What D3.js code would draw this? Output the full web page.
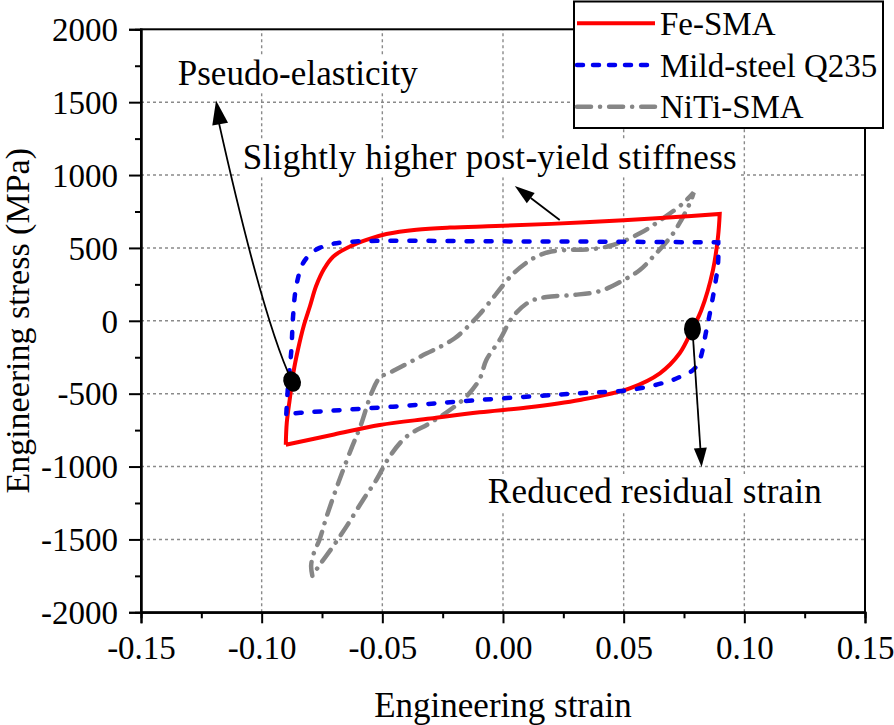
<!DOCTYPE html>
<html>
<head>
<meta charset="utf-8">
<script src="https://cdn.jsdelivr.net/npm/d3@7/dist/d3.min.js"></script>
<style>
  html, body { margin: 0; padding: 0; background: #fff; }
  svg { display: block; }
  text { font-family: "Liberation Serif", "Times New Roman", serif; fill: #000; }
</style>
</head>
<body>
<svg id="chart" width="894" height="725"></svg>
<script>
// ---------------- DATA ----------------
const xTicks = [-0.15, -0.10, -0.05, 0.00, 0.05, 0.10, 0.15];
const yTicks = [-2000, -1500, -1000, -500, 0, 500, 1000, 1500, 2000];
const xMinorTicks = [-0.125, -0.075, -0.025, 0.025, 0.075, 0.125];
const yMinorTicks = [-1750, -1250, -750, -250, 250, 750, 1250, 1750];

const seriesNames = ["Fe-SMA", "Mild-steel Q235", "NiTi-SMA"];

// Fe-SMA (red) loop
const feStrain = [-0.0900, -0.0896, -0.0884, -0.0868, -0.0850, -0.0825, -0.0800, -0.0774, -0.0740, -0.0704,
  -0.0636, -0.0566, -0.0483, -0.0359, -0.0220, -0.0030, 0.0200, 0.0500, 0.0700, 0.0898,
  0.0891, 0.0870, 0.0822, 0.0785, 0.0732, 0.0650, 0.0525, 0.0318, 0.0100, -0.0097,
  -0.0300, -0.0511, -0.0700, -0.0900];
const feStress = [-850, -700, -543, -350, -200, -30, 100, 240, 360, 440,
  508, 555, 595, 625, 640, 650, 665, 690, 710, 733,
  577, 348, 74, -56, -223, -360, -463, -543, -595, -628,
  -670, -715, -780, -850];

// Mild steel Q235 (blue) loop
const q235Strain = [-0.0898, -0.0891, -0.0877, -0.0870, -0.0857, -0.0829, -0.0790, -0.0760, -0.0700, -0.0600,
  -0.0456, 0.0000, 0.0400, 0.0892,
  0.0891, 0.0870, 0.0843, 0.0815, 0.0788, 0.0740, 0.0677, 0.0525, 0.0318, -0.0097,
  -0.0456, -0.0829, -0.0898];
const q235Stress = [-640, -452, -200, 28, 234, 394, 470, 500, 530, 545,
  549, 545, 543, 538,
  394, 165, -63, -269, -337, -380, -420, -475, -497, -543,
  -589, -630, -640];

// NiTi SMA (gray) loop
const nitiStrain = [-0.0790, -0.0795, -0.0785, -0.0760, -0.0731, -0.0683, -0.0628, -0.0590, -0.0545, -0.0510,
  -0.0456, -0.0387, -0.0318, -0.0262, -0.0200, -0.0152, -0.0097, -0.0040, -0.0014, 0.0040,
  0.0090, 0.0138, 0.0200, 0.0290, 0.0360, 0.0456, 0.0567, 0.0663, 0.0746, 0.0790,
  0.0774, 0.0705, 0.0622, 0.0567, 0.0500, 0.0404, 0.0290, 0.0180, 0.0110, 0.0041,
  -0.0014, -0.0069, -0.0097, -0.0152, -0.0220, -0.0304, -0.0400, -0.0470, -0.0525, -0.0580,
  -0.0649, -0.0705, -0.0760, -0.0790];
const nitiStress = [-1750, -1680, -1600, -1500, -1344, -1115, -875, -720, -497, -390,
  -345, -285, -225, -180, -120, -50, 45, 160, 215, 320,
  390, 440, 475, 487, 490, 520, 600, 703, 806, 880,
  806, 600, 440, 348, 280, 205, 177, 163, 131, 28,
  -132, -269, -400, -520, -612, -703, -795, -932, -1092, -1229,
  -1412, -1550, -1675, -1750];

// Annotations (in data units)
const annotationTexts = ["Pseudo-elasticity", "Slightly higher post-yield stiffness", "Reduced residual strain"];
const annotationTextPos = [[-0.1348, 1617], [-0.0055, 1040], [0.0629, -1250]];
const annotationTextWidth = [240, 494, 334];
const pseudoDot = [-0.0874, -416];
const pseudoMid = [-0.1009, 232];
const pseudoTip = [-0.1189, 1512];
const stiffStart = [0.0235, 691];
const stiffTip = [0.0049, 925];
const residualDot = [0.0785, -56];
const residualTip = [0.0823, -1003];

// ---------------- CHART ----------------
const svg = d3.select("#chart");
const x = d3.scaleLinear().domain([-0.15, 0.15]).range([141, 865]);
const y = d3.scaleLinear().domain([-2000, 2000]).range([612.3, 29.3]);
const [x0, x1] = x.range();
const [yB, yT] = y.range();

// Grid
const grid = svg.append("g").attr("stroke", "#8a8a8a").attr("stroke-width", 1.4).attr("stroke-dasharray", "3,3");
xTicks.slice(1, -1).forEach(t => grid.append("line").attr("x1", x(t)).attr("x2", x(t)).attr("y1", yB).attr("y2", yT));
yTicks.slice(1, -1).forEach(t => grid.append("line").attr("x1", x0).attr("x2", x1).attr("y1", y(t)).attr("y2", y(t)));

// Annotation texts with white backgrounds
const annG = svg.append("g");
annotationTexts.forEach((txt, i) => {
  const p = annotationTextPos[i];
  const anchor = i === 0 ? "start" : "middle";
  const t = annG.append("text").attr("x", x(p[0])).attr("y", y(p[1]))
    .attr("font-size", 35).attr("text-anchor", anchor)
    .attr("textLength", annotationTextWidth[i]).attr("lengthAdjust", "spacing").text(txt);
  const bb = t.node().getBBox();
  annG.insert("rect", "text").attr("x", bb.x - 3).attr("y", bb.y + 2).attr("width", bb.width + 6)
    .attr("height", bb.height - 2).attr("fill", "#fff");
});

// Curves: each loop is split at its maximum strain (sharp tip) and the two
// smooth branches are joined into one path so the dash pattern continues.
const line = d3.line().x(d => x(d[0])).y(d => y(d[1])).curve(d3.curveCatmullRom.alpha(0.5));
const zip = (a, b) => a.map((v, i) => [v, b[i]]);
function loopPath(pts) {
  const k = d3.maxIndex(pts, d => d[0]);
  const a = line(pts.slice(0, k + 1));
  const b = line(pts.slice(k));
  return a + b.replace(/^M[^A-Za-z]*/, "");
}

const series = [
  {data: zip(nitiStrain, nitiStress), color: "#868686", width: 4.5, dash: "14,9,0.1,9"},
  {data: zip(feStrain, feStress), color: "#ff0000", width: 4, dash: null},
  {data: zip(q235Strain, q235Stress), color: "#0000f0", width: 4.5, dash: "6,13"},
];
series.forEach(s => {
  svg.append("path").attr("d", loopPath(s.data)).attr("fill", "none")
    .attr("stroke", s.color).attr("stroke-width", s.width)
    .attr("stroke-linecap", s.dash ? "round" : "butt").attr("stroke-linejoin", "miter")
    .attr("stroke-miterlimit", 4)
    .attr("stroke-dasharray", s.dash);
});

// Arrows
function arrowHead(g, tip, from, len, halfW) {
  const dx = tip[0] - from[0], dy = tip[1] - from[1];
  const L = Math.hypot(dx, dy), ux = dx / L, uy = dy / L;
  const bx = tip[0] - ux * len, by = tip[1] - uy * len;
  const nx = -uy, ny = ux;
  g.append("path").attr("d", `M${tip[0]},${tip[1]}L${bx + nx * halfW},${by + ny * halfW}L${bx - nx * halfW},${by - ny * halfW}Z`)
    .attr("fill", "#000");
  return [bx, by];
}
const arr = svg.append("g");
const P = d => [x(d[0]), y(d[1])];
// Pseudo-elasticity: curved arrow
{
  const tip = P(pseudoTip), mid = P(pseudoMid), dot = P(pseudoDot);
  const base = [tip[0] + 3, tip[1] + 23];
  const c = [2 * mid[0] - 0.5 * (base[0] + dot[0]), 2 * mid[1] - 0.5 * (base[1] + dot[1])];
  arr.append("path").attr("d", `M${base[0]},${base[1]}Q${c[0]},${c[1]} ${dot[0]},${dot[1]}`)
    .attr("fill", "none").attr("stroke", "#000").attr("stroke-width", 1.8);
  arrowHead(arr, tip, [base[0] + (c[0] - base[0]) * 0.1, base[1] + (c[1] - base[1]) * 0.1], 24, 8);
  arr.append("ellipse").attr("cx", dot[0]).attr("cy", dot[1]).attr("rx", 8.5).attr("ry", 10.5)
    .attr("transform", `rotate(-25,${dot[0]},${dot[1]})`).attr("fill", "#000");
}
// Stiffness arrow
{
  const s = P(stiffStart), tip = P(stiffTip);
  const b = arrowHead(arr, tip, s, 20, 6.5);
  arr.append("line").attr("x1", s[0]).attr("y1", s[1]).attr("x2", b[0]).attr("y2", b[1])
    .attr("stroke", "#000").attr("stroke-width", 1.8);
}
// Residual strain arrow
{
  const d = P(residualDot), tip = P(residualTip);
  const b = arrowHead(arr, tip, d, 19, 6.5);
  arr.append("line").attr("x1", d[0]).attr("y1", d[1]).attr("x2", b[0]).attr("y2", b[1])
    .attr("stroke", "#000").attr("stroke-width", 1.8);
  arr.append("ellipse").attr("cx", d[0]).attr("cy", d[1]).attr("rx", 8.5).attr("ry", 11.5)
    .attr("fill", "#000");
}

// Frame
svg.append("rect").attr("x", x0).attr("y", yT).attr("width", x1 - x0).attr("height", yB - yT)
  .attr("fill", "none").attr("stroke", "#000").attr("stroke-width", 2);

// Axes
const fmtX = v => (v < 0 ? "-" : "") + Math.abs(v).toFixed(2);
const fmtY = v => String(v);
const xAxis = svg.append("g").attr("transform", `translate(0,${yB})`)
  .call(d3.axisBottom(x).tickValues(xTicks).tickFormat(fmtX).tickSize(11).tickPadding(12));
const xMinor = svg.append("g").attr("transform", `translate(0,${yB})`)
  .call(d3.axisBottom(x).tickValues(xMinorTicks).tickFormat("").tickSize(6));
const yAxis = svg.append("g").attr("transform", `translate(${x0},0)`)
  .call(d3.axisLeft(y).tickValues(yTicks).tickFormat(fmtY).tickSize(12).tickPadding(11));
const yMinor = svg.append("g").attr("transform", `translate(${x0},0)`)
  .call(d3.axisLeft(y).tickValues(yMinorTicks).tickFormat("").tickSize(6));
[xAxis, xMinor, yAxis, yMinor].forEach(g => {
  g.select(".domain").attr("stroke-width", 2);
  g.selectAll(".tick line").attr("stroke-width", 2);
  g.selectAll("text").attr("font-size", 33).attr("font-family", '"Liberation Serif", "Times New Roman", serif');
});
xAxis.selectAll("text").attr("dy", "0.71em");
yAxis.selectAll("text").attr("dy", "0.34em");

// Axis titles
svg.append("text").attr("x", (x0 + x1) / 2).attr("y", 717).attr("text-anchor", "middle")
  .attr("font-size", 35).text("Engineering strain");
svg.append("text").attr("transform", `translate(29,${(yB + yT) / 2}) rotate(-90)`).attr("text-anchor", "middle")
  .attr("font-size", 34).text("Engineering stress (MPa)");

// Legend
const leg = svg.append("g");
leg.append("rect").attr("x", 574).attr("y", 1.5).attr("width", 309).attr("height", 126.5)
  .attr("fill", "#fff").attr("stroke", "#000").attr("stroke-width", 2);
const legRowsY = [23.3, 65, 106.7];
const legStyles = [series[1], series[2], series[0]];
const legDash = [null, "6,10", "14,9,0.1,9"];
seriesNames.forEach((name, i) => {
  const s = legStyles[i];
  leg.append("line").attr("x1", 577).attr("x2", 655).attr("y1", legRowsY[i]).attr("y2", legRowsY[i])
    .attr("stroke", s.color).attr("stroke-width", s.width)
    .attr("stroke-linecap", legDash[i] ? "round" : "butt").attr("stroke-dasharray", legDash[i]);
  leg.append("text").attr("x", 660).attr("y", legRowsY[i] + 11.5).attr("font-size", 33).text(name);
});
</script>
</body>
</html>
